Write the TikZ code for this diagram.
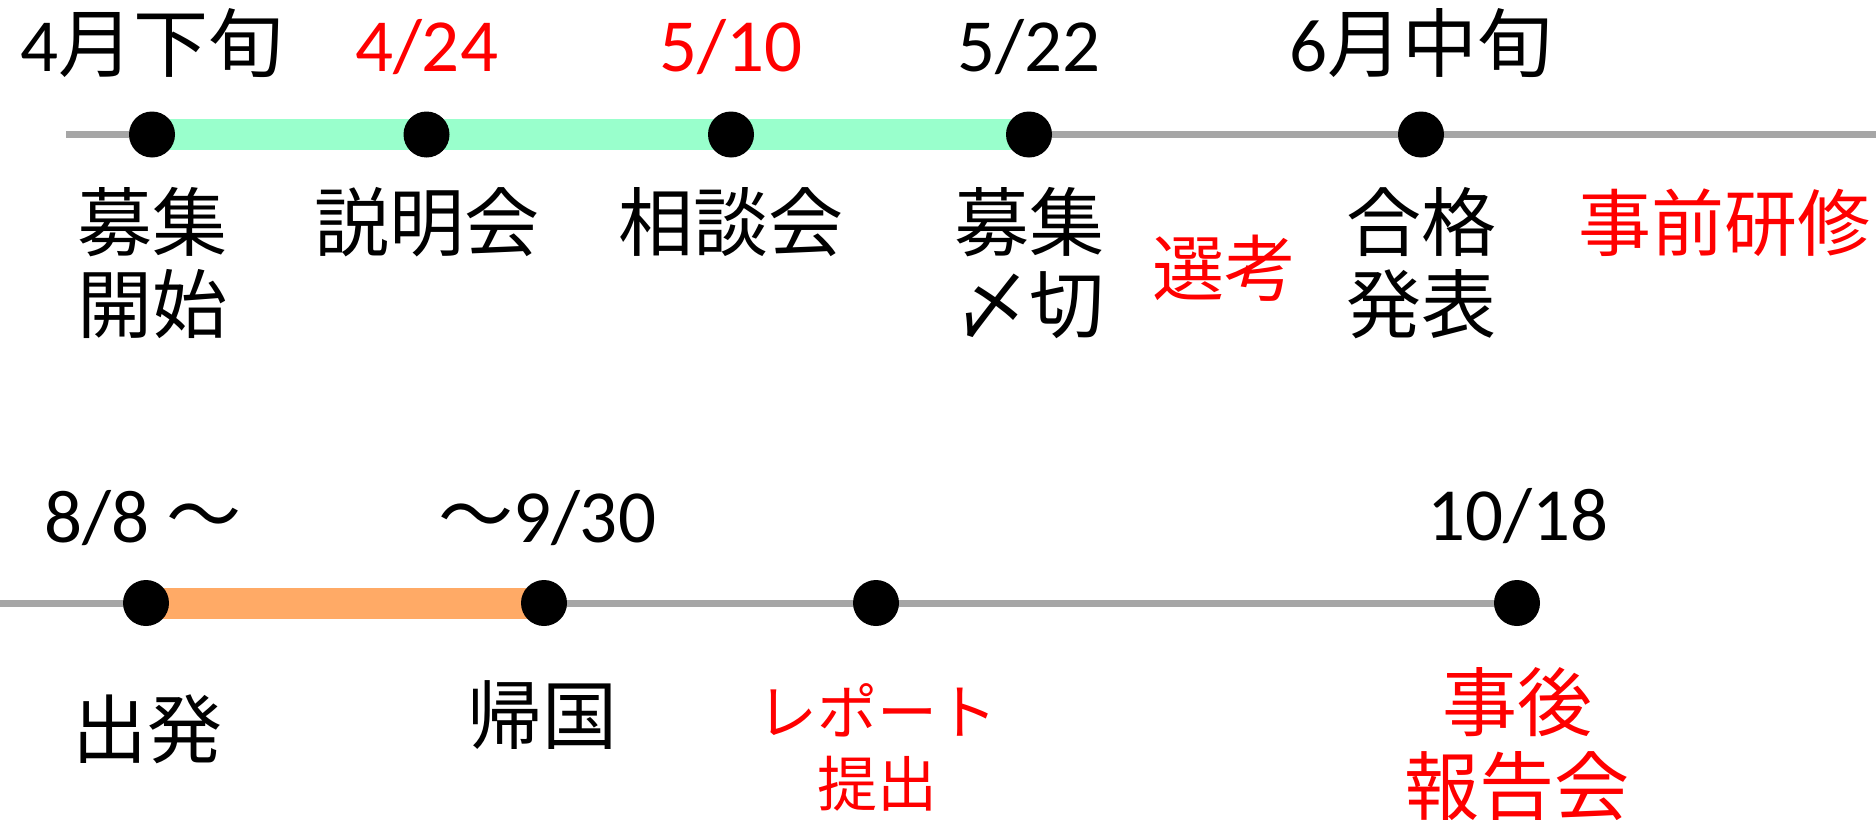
\documentclass[tikz,border=0pt]{standalone}
\usepackage{fontspec}
\setmainfont{Carlito}
\newfontfamily\cjk{Noto Sans CJK JP}
\usetikzlibrary{backgrounds}
\definecolor{bandgreen}{HTML}{99FFCC}
\definecolor{bandorange}{HTML}{FFAA66}
\definecolor{axisgray}{HTML}{A6A6A6}
\definecolor{hired}{HTML}{FF0000}
\tikzset{
  dot/.style={circle,fill=black,minimum size=46pt,inner sep=0pt},
  axis/.style={draw=axisgray,line width=7pt},
  greenband/.style={draw=bandgreen,line width=31pt},
  orangeband/.style={draw=bandorange,line width=31pt},
  lbl/.style={inner sep=0pt,anchor=base,align=center,font=\fontsize{75}{82}\selectfont},
  redlbl/.style={lbl,text=hired},
}
\begin{document}
\begin{tikzpicture}[x=1pt,y=-1pt]
\useasboundingbox (0,0) rectangle (1876,819);
% top timeline dots
\node[dot] (a1) at (152,134.5) {};
\node[dot] (a2) at (426.5,134.5) {};
\node[dot] (a3) at (731,134.5) {};
\node[dot] (a4) at (1029,134.5) {};
\node[dot] (a5) at (1421,134.5) {};
\coordinate (aL) at (66,134.5);
\coordinate (aR) at (1876,134.5);
% bottom timeline dots
\node[dot] (b1) at (146,603) {};
\node[dot] (b2) at (544,603) {};
\node[dot] (b3) at (876,603) {};
\node[dot] (b4) at (1517,603) {};
\coordinate (bL) at (0,603);
\begin{pgfonlayer}{background}
\draw[axis] (aL) -- (aR);
\draw[greenband] (a1.center) -- (a4.center);
\draw[axis] (bL) -- (b4.center);
\draw[orangeband] (b1.center) -- (b2.center);
\end{pgfonlayer}
% top labels above
\node[lbl] (ta1) at (152,71) {4{\cjk 月下旬}};
\node[redlbl] (ta2) at (426.5,71) {4/24};
\node[redlbl] (ta3) at (731,71) {5/10};
\node[lbl] (ta4) at (1029,71) {5/22};
\node[lbl] (ta5) at (1421,71) {6{\cjk 月中旬}};
% top labels below (base = last line)
\node[lbl,font=\fontsize{75}{82}\cjk] (ba1) at (152,332) {募集\\開始};
\node[lbl,font=\fontsize{75}{82}\cjk] (ba2) at (426.5,250) {説明会};
\node[lbl,font=\fontsize{75}{82}\cjk] (ba3) at (731,250) {相談会};
\node[lbl,font=\fontsize{75}{82}\cjk] (ba4) at (1029,332) {募集\\〆切};
\node[redlbl,font=\fontsize{72}{80}\cjk] (sel) at (1224,295) {選考};
\node[lbl,font=\fontsize{75}{82}\cjk] (ba5) at (1421,332) {合格\\発表};
\node[redlbl,font=\fontsize{73}{82}\cjk] (pre) at (1724,250) {事前研修};
% bottom labels above
\node[lbl] (tb1) at (143,542) {8/8 {\cjk ～}};
\node[lbl] (tb2) at (547,542) {{\cjk ～}9/30};
\node[lbl] (tb4) at (1518,540) {10/18};
% bottom labels below
\node[lbl,font=\fontsize{75}{82}\cjk] (bb1) at (147,757) {出発};
\node[lbl,font=\fontsize{75}{82}\cjk] (bb2) at (542,743) {帰国};
\node[redlbl,font=\fontsize{60}{72}\cjk] (bb3) at (877,806) {レポート\\提出};
\node[redlbl,font=\fontsize{75}{84}\cjk] (bb4) at (1517,814) {事後\\報告会};
\end{tikzpicture}
\end{document}
